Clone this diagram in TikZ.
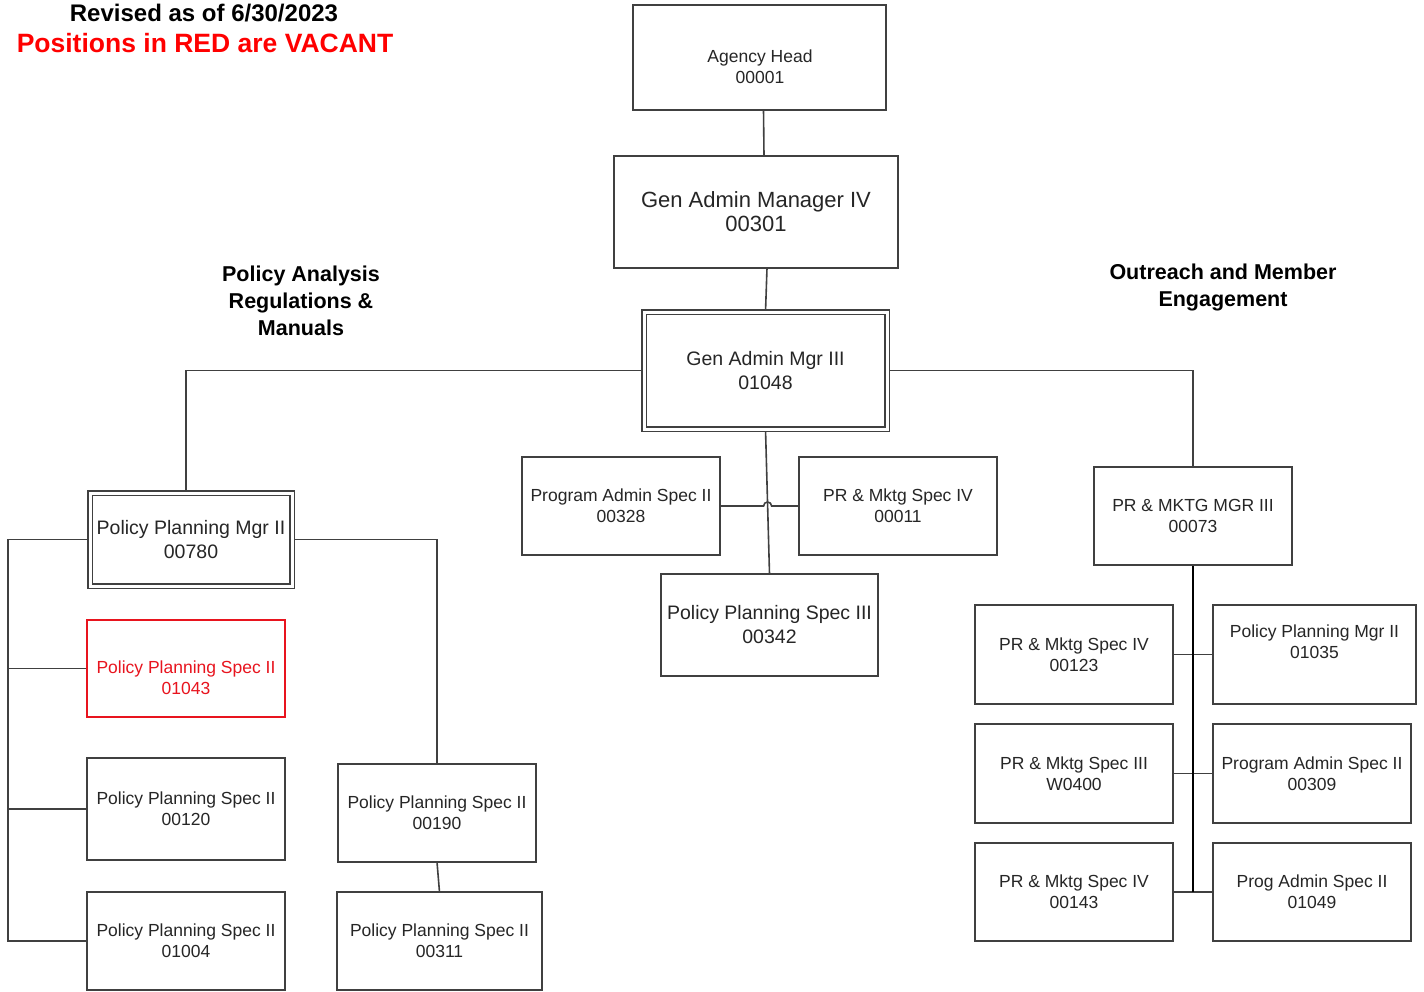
\documentclass[tikz,border=0pt]{standalone}
\usepackage{fontspec}
\setmainfont{Liberation Sans}
\usetikzlibrary{calc,backgrounds}
\definecolor{ln}{HTML}{404040}
\definecolor{vac}{HTML}{E8141E}
\tikzset{
  box/.style={draw=ln, line width=1.4pt, fill=white, inner sep=0pt, outer sep=0pt,
    align=center, text=black!85, font=\fontsize{17.5}{21}\selectfont},
  big/.style={font=\fontsize{19.5}{24}\selectfont},
  dbox/.style={box, double=white, double distance=3pt, line width=1.6pt},
  txt/.style={align=center, text=black!85, inner sep=0pt, font=\fontsize{17.5}{21}\selectfont},
  conn/.style={draw=ln, line width=1.6pt},
  hdr/.style={font=\bfseries\fontsize{21.5}{27}\selectfont, align=center, inner sep=0pt},
}
\begin{document}
\begin{tikzpicture}[x=1pt,y=-1pt]
\useasboundingbox (0,0) rectangle (1424,991);
% titles
\node[font=\bfseries\fontsize{24}{26}\selectfont, inner sep=0pt] (rev) at (204,13) {Revised as of 6/30/2023};
\node[font=\bfseries\fontsize{26.5}{30}\selectfont, text=red, inner sep=0pt] (vacant) at (205,43) {Positions in RED are VACANT};
\node[hdr] (h1) at (301,301) {Policy Analysis\\Regulations \&\\Manuals};
\node[hdr] (h2) at (1223,287.5) {Outreach and Member\\Engagement};
% top chain
\node[box, minimum width=253, minimum height=105] (ah) at (759.5,57.5) {};
\node[txt] (aht) at (760,67) {Agency Head\\00001};
\node[box, font=\fontsize{22}{24}\selectfont, minimum width=284, minimum height=112] (gam4) at (756,212) {Gen Admin Manager IV\\00301};
\node[dbox, big, minimum width=243, minimum height=117] (gam3) at (765.5,370.5) {Gen Admin Mgr III\\01048};
% center
\node[box, minimum width=198, minimum height=98] (pas) at (621,506) {Program Admin Spec II\\00328};
\node[box, minimum width=198, minimum height=98] (pms4) at (898,506) {PR \& Mktg Spec IV\\00011};
\node[box, big, minimum width=217, minimum height=102] (pps3) at (769.5,625) {Policy Planning Spec III\\00342};
% left
\node[dbox, big, minimum width=202, minimum height=93] (ppm2) at (191,539.5) {Policy Planning Mgr II\\00780};
\node[box, draw=vac, minimum width=198, minimum height=97] (red) at (186,668.5) {};
\node[txt, text=vac] (redt) at (186,678) {Policy Planning Spec II\\01043};
\node[box, minimum width=198, minimum height=102] (b120) at (186,809) {Policy Planning Spec II\\00120};
\node[box, minimum width=198, minimum height=98] (b1004) at (186,941) {Policy Planning Spec II\\01004};
\node[box, minimum width=198, minimum height=98] (b190) at (437,813) {Policy Planning Spec II\\00190};
\node[box, minimum width=205, minimum height=98] (b311) at (439.5,941) {Policy Planning Spec II\\00311};
% right
\node[box, minimum width=198, minimum height=98] (mgr3) at (1193,516) {PR \& MKTG MGR III\\00073};
\node[box, minimum width=198, minimum height=99] (b123) at (1074,654.5) {PR \& Mktg Spec IV\\00123};
\node[box, minimum width=203, minimum height=99] (b1035) at (1314.5,654.5) {};
\node[txt] (b1035t) at (1314.5,642) {Policy Planning Mgr II\\01035};
\node[box, minimum width=198, minimum height=99] (w400) at (1074,773.5) {PR \& Mktg Spec III\\W0400};
\node[box, minimum width=198, minimum height=99] (b309) at (1312,773.5) {Program Admin Spec II\\00309};
\node[box, minimum width=198, minimum height=98] (b143) at (1074,892) {PR \& Mktg Spec IV\\00143};
\node[box, minimum width=198, minimum height=98] (b1049) at (1312,892) {Prog Admin Spec II\\01049};
% connectors
\coordinate (lb) at (8,941);
\coordinate (jmp) at (767.6,506);
\begin{scope}[on background layer]
\draw[conn] ($(ah.south)+(4,0)$) -- ($(gam4.north)+(8,0)$);
\draw[conn] ($(gam4.south)+(11,0)$) -- (gam3.north);
\draw[conn] (gam3.west) -| ($(ppm2.north)+(-5,0)$);
\draw[conn] (gam3.east) -| (mgr3.north);
\draw[conn] (gam3.south) -- (pps3.north);
\draw[conn] (pas.east) -- ($(jmp)+(-4,0)$) arc[start angle=180, end angle=360, radius=4] -- (pms4.west);
\draw[conn] (ppm2.west) -| (lb) -- (b1004.west);
\draw[conn] (red.west -| lb) -- (red.west);
\draw[conn] (b120.west -| lb) -- (b120.west);
\draw[conn] (ppm2.east) -| (b190.north);
\draw[conn] (b190.south) -- (b311.north);
\draw[conn] (b123.east) -- (b1035.west);
\draw[conn] (w400.east) -- (b309.west);
\draw[conn] (b143.east) -- (b1049.west);
\draw[black, line width=2.4pt] (mgr3.south) -- (mgr3.south |- b143.east);
\end{scope}
\end{tikzpicture}
\end{document}
